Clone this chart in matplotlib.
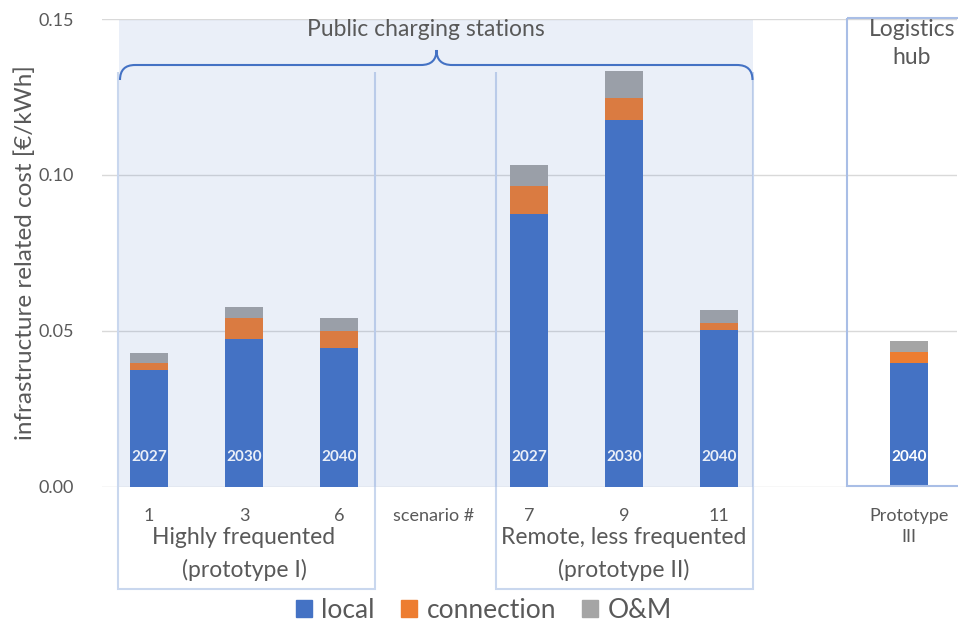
import numpy as np
import matplotlib
matplotlib.use("Agg")
import matplotlib.pyplot as plt
from matplotlib.patches import Rectangle, Patch
from matplotlib.path import Path
from matplotlib.patches import PathPatch
from matplotlib.transforms import Affine2D, blended_transform_factory

plt.rcParams['font.family'] = ['Lato', 'DejaVu Sans']

# data
categories = ['1', '3', '6', 'scenario #', '7', '9', '11', '', 'Prototype\nIII']
years = ['2027', '2030', '2040', '', '2027', '2030', '2040', '', '2040']
local = [0.0374, 0.0472, 0.0443, 0, 0.0875, 0.1176, 0.0502, 0, 0.0395]
connection = [0.0021, 0.0069, 0.0057, 0, 0.0090, 0.0071, 0.0023, 0, 0.0037]
om = [0.0032, 0.0036, 0.0040, 0, 0.0066, 0.0087, 0.0040, 0, 0.0036]
series_names = ['local', 'connection', 'O&M']
colors = ['#4472C4', '#ED7D31', '#A5A5A5']
groups = [('Highly frequented', '(prototype I)'), ('Remote, less frequented', '(prototype II)')]
group_centers = [1, 5]

grey = '#595959'
boxc = '#C9D7EE'

fig = plt.figure(figsize=(9.58, 6.23), dpi=100)
ax = fig.add_axes([101.5 / 958, 1 - 486.5 / 623, 855 / 958, 467.5 / 623])
# pixel coords (from top-left) -> figure
px = Affine2D().scale(1 / 958, -1 / 623).translate(0, 1) + fig.transFigure
xpx = blended_transform_factory(ax.transData, px)

x = np.arange(len(categories))
loc = np.array(local)
con = np.array(connection)
o = np.array(om)
w = 0.4
ax.bar(x, loc, w, color=colors[0], zorder=2)
ax.bar(x, con, w, bottom=loc, color=colors[1], zorder=2)
ax.bar(x, o, w, bottom=loc + con, color=colors[2], zorder=2)

for xi, y in zip(x, years):
    if y:
        ax.text(xi, 0.0095, y, ha='center', va='center', color='white',
                fontsize=11, fontweight='bold', zorder=4)

ax.set_xlim(-0.5, len(categories) - 0.5)
ax.set_ylim(0, 0.15)
ax.set_yticks([0, 0.05, 0.10, 0.15])
ax.set_yticklabels(['0.00', '0.05', '0.10', '0.15'])
ax.set_xticks(x)
ax.set_xticklabels(categories, va='top', linespacing=1.4)
for lab in ax.get_xticklabels():
    if lab.get_text() == 'scenario #':
        lab.set_fontsize(12)
    if lab.get_text().startswith('Prototype'):
        lab.set_fontsize(14)
ax.tick_params(axis='both', length=0, colors=grey, labelsize=13)
ax.tick_params(axis='y', pad=20)
ax.tick_params(axis='x', pad=15.5)
ax.grid(axis='y', color='#D9D9D9', lw=1, zorder=0)
ax.set_axisbelow(True)
for s in ax.spines.values():
    s.set_visible(False)
ax.set_ylabel('infrastructure related cost [€/kWh]', fontsize=17.5, color=grey)
ax.yaxis.set_label_coords(-0.077, 0.5)

# shaded area of public stations (overlay)
fig.add_artist(Rectangle((119, 20), 634, 466.5, transform=px,
                         facecolor='#4472C4', alpha=0.11, lw=0, zorder=3))

# group boxes, open at the top
for x0, x1 in [(118, 375), (496, 753)]:
    fig.add_artist(PathPatch(Path([(x0, 72), (x0, 589), (x1, 589), (x1, 72)]),
                             transform=px, facecolor='none', edgecolor=boxc,
                             lw=1.5, zorder=1))
fig.add_artist(Rectangle((847.5, 18), 120, 468, transform=px,
                         facecolor='none', edgecolor='#A9BEE6', lw=1.5, zorder=3))

for gc, (l1, l2) in zip(group_centers, groups):
    ax.text(gc, 538, l1, transform=xpx, ha='center', va='center', fontsize=16.5, color=grey)
    ax.text(gc, 570, l2, transform=xpx, ha='center', va='center', fontsize=16.5, color=grey)

# brace
verts = [(120, 80), (120, 65), (135, 65), (421, 65), (436.5, 65), (436.5, 50),
         (436.5, 65), (452, 65), (737, 65), (752.5, 65), (752.5, 80)]
codes = [Path.MOVETO, Path.CURVE3, Path.CURVE3, Path.LINETO, Path.CURVE3, Path.CURVE3,
         Path.CURVE3, Path.CURVE3, Path.LINETO, Path.CURVE3, Path.CURVE3]
fig.add_artist(PathPatch(Path(verts, codes), transform=px, facecolor='none',
                         edgecolor='#4472C4', lw=1.5, zorder=4))
fig.text(426 / 958, 1 - 30 / 623, 'Public charging stations', ha='center', va='center',
         fontsize=16.5, color=grey)
fig.text(912 / 958, 1 - 30 / 623, 'Logistics', ha='center', va='center',
         fontsize=16.5, color=grey)
fig.text(912 / 958, 1 - 58 / 623, 'hub', ha='center', va='center',
         fontsize=16.5, color=grey)

handles = [Patch(color=c) for c in colors]
fig.legend(handles, series_names, loc='center', bbox_to_anchor=(484 / 958, 1 - 610 / 623),
           ncol=3, frameon=False, fontsize=19, handlelength=0.6, handleheight=0.6,
           handletextpad=0.35, columnspacing=1.0, labelcolor=grey)

fig.savefig('out.png', dpi=100)
